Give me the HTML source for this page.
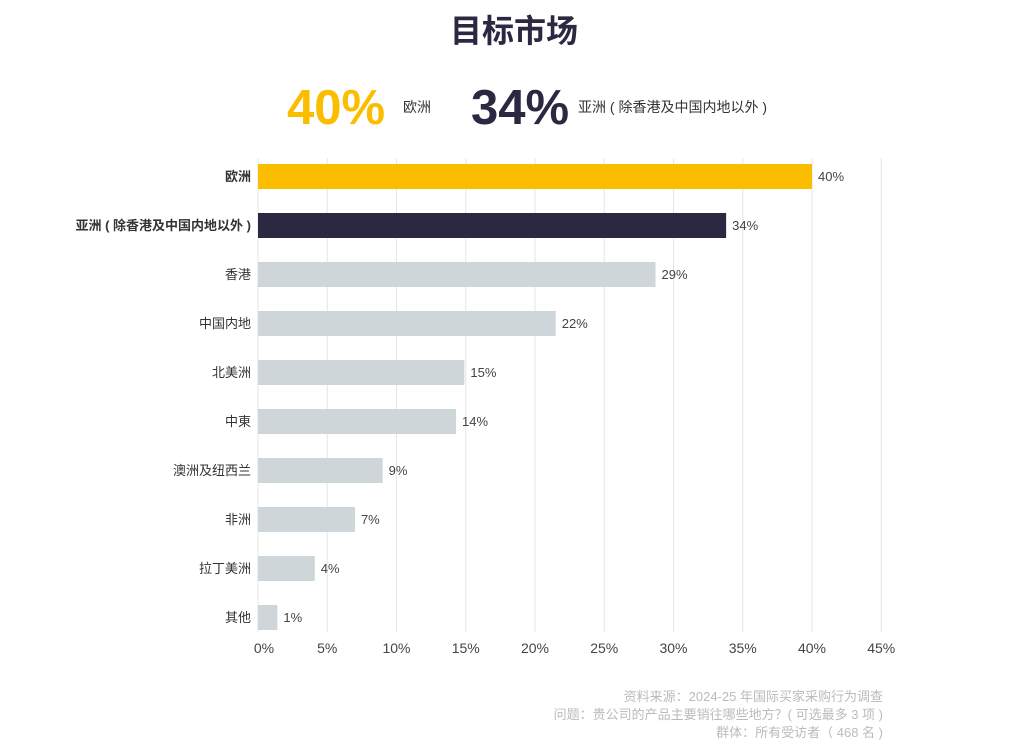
<!DOCTYPE html>
<html><head><meta charset="utf-8"><style>
body{margin:0;background:#fff;width:1024px;height:747px;overflow:hidden;font-family:"Liberation Sans","Noto Sans CJK SC",sans-serif;}
</style></head><body>
<svg width="1024" height="747" id="c" style="font-family:'Liberation Sans','Noto Sans CJK SC',sans-serif">
<text x="514" y="42" text-anchor="middle" font-size="32" font-weight="bold" fill="#2b2842">目标市场</text>
<text x="287" y="124" font-size="49" font-weight="bold" fill="#fbbd00">40%</text>
<text x="403" y="112" font-size="14" fill="#333">欧洲</text>
<text x="471" y="124" font-size="49" font-weight="bold" fill="#2b2842">34%</text>
<text x="578" y="112" font-size="14" fill="#333">亚洲 ( 除香港及中国内地以外 )</text>
<g id="grid"></g><g id="bars"></g><g id="ticks"></g>
<g font-size="13" fill="#bbb" text-anchor="end">
<text x="883" y="701">资料来源：2024-25 年国际买家采购行为调查</text>
<text x="883" y="719">问题：贵公司的产品主要销往哪些地方？( 可选最多 3 项 )</text>
<text x="883" y="737">群体：所有受访者（ 468 名 )</text>
</g>
</svg>
<script>
const categories=["欧洲","亚洲 ( 除香港及中国内地以外 )","香港","中国内地","北美洲","中東","澳洲及纽西兰","非洲","拉丁美洲","其他"];
const values=[40,33.8,28.7,21.5,14.9,14.3,9.0,7.0,4.1,1.4];
const colors=["#fbbd00","#2b2842","#cfd6d9","#cfd6d9","#cfd6d9","#cfd6d9","#cfd6d9","#cfd6d9","#cfd6d9","#cfd6d9"];
const tickValues=[0,5,10,15,20,25,30,35,40,45];
const NS="http://www.w3.org/2000/svg";
const x=v=>258+v*13.85;
const y=i=>164+i*49;
function mk(t,a,p){const e=document.createElementNS(NS,t);for(const k in a)e.setAttribute(k,a[k]);p.appendChild(e);return e;}
const G=document.getElementById('grid'),B=document.getElementById('bars'),T=document.getElementById('ticks');
tickValues.forEach(v=>{
 const l=mk('line',{x1:x(v),x2:x(v),y1:158,y2:632,stroke:'#e6e6e6','stroke-width':1},G);
 
 
 const t=mk('text',{x:x(v)+(v===0?6:0),y:653,'text-anchor':'middle','font-size':14,fill:'#444'},T);
 t.textContent=v+'%';
 
 
});
categories.forEach((c,i)=>{
 const r=mk('rect',{x:x(0),y:y(i),width:x(values[i])-x(0),height:25,fill:colors[i]},B);
 
 
 const l=mk('text',{x:251,y:y(i)+17,'text-anchor':'end','font-size':13,fill:'#333','font-weight':i<2?'bold':'normal'},B);
 l.textContent=c;
 
 
 const v=mk('text',{x:x(values[i])+6,y:y(i)+17,'font-size':13,fill:'#444'},B);
 v.textContent=Math.round(values[i])+'%';
 
 
});
</script>
</body></html>
